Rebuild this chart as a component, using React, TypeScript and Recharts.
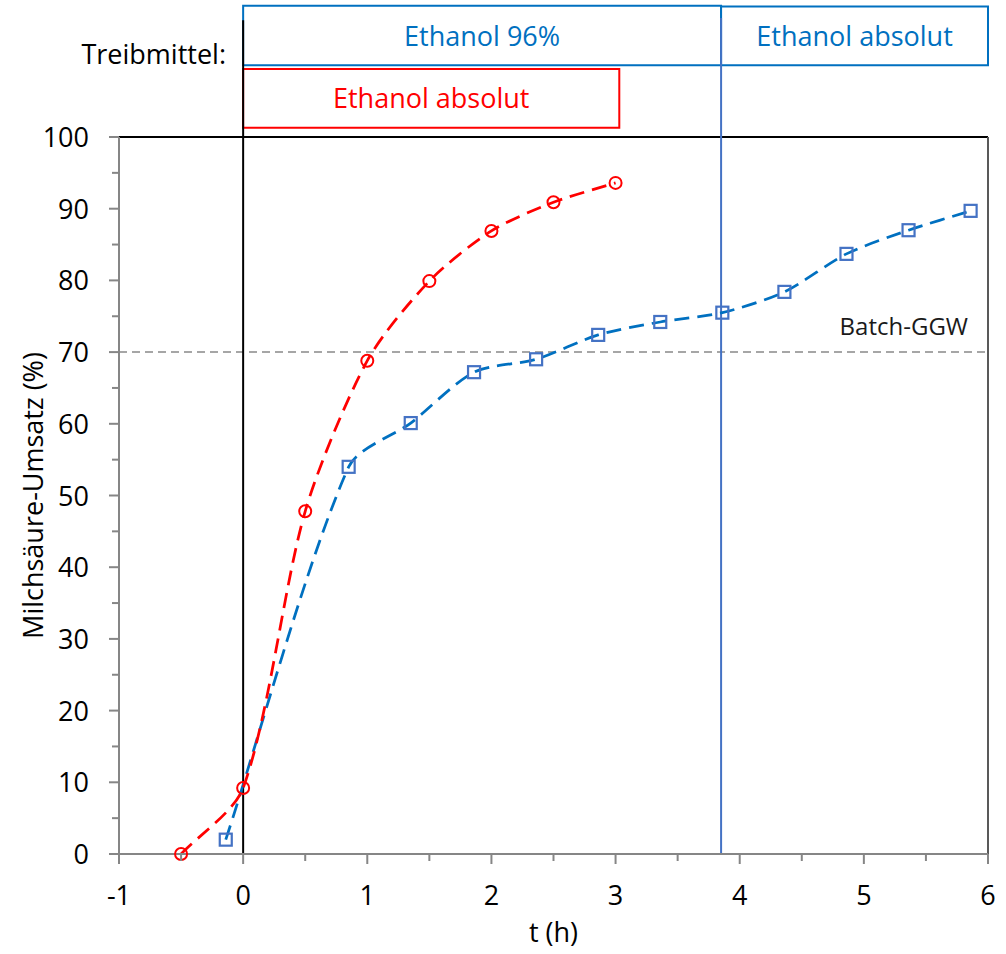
import React from 'react';
import {
  ComposedChart,
  Line,
  XAxis,
  YAxis,
  ReferenceLine,
  ReferenceArea,
} from 'recharts';

// Ethanol absolut (red) and Ethanol 96% -> absolut (blue)
const redT = [-0.5, 0, 0.5, 1, 1.5, 2, 2.5, 3];
const redU = [0, 9.2, 47.8, 68.8, 79.9, 86.9, 90.9, 93.6];
const blueT = [-0.14, 0.85, 1.35, 1.86, 2.36, 2.86, 3.36, 3.86, 4.36, 4.86, 5.36, 5.86];
const blueU = [2.0, 54.0, 60.1, 67.2, 69.0, 72.4, 74.2, 75.5, 78.4, 83.7, 87.0, 89.7];

const xTicks = [-1, -0.5, 0, 0.5, 1, 1.5, 2, 2.5, 3, 3.5, 4, 4.5, 5, 5.5, 6];
const yTicks = [0, 5, 10, 15, 20, 25, 30, 35, 40, 45, 50, 55, 60, 65, 70, 75, 80, 85, 90, 95, 100];

const switchT = 3.85;
const batchGGW = 70;

const redData = redT.map((t, i) => ({ t, u: redU[i] }));
const blueData = blueT.map((t, i) => ({ t, u: blueU[i] }));

const FONT = '"Open Sans", Lato, sans-serif';
const RED = '#FF0000';
const BLUE = '#0070C0';
const AXIS = '#868686';

// smoothed line like excel: tangent direction from neighbours,
// control handle scaled by the length of the segment itself (no overshoot)
const SMOOTH = 0.27;
const smoothCurve = (context: any) => {
  let pts: number[][] = [];
  const tangent = (a: number[], b: number[]) => {
    const dx = b[0] - a[0];
    const dy = b[1] - a[1];
    const l = Math.hypot(dx, dy) || 1;
    return [dx / l, dy / l];
  };
  return {
    areaStart() {},
    areaEnd() {},
    lineStart() {
      pts = [];
    },
    point(x: number, y: number) {
      pts.push([+x, +y]);
    },
    lineEnd() {
      if (!pts.length) return;
      context.moveTo(pts[0][0], pts[0][1]);
      for (let i = 0; i < pts.length - 1; i++) {
        const p0 = pts[i - 1] || pts[i];
        const p1 = pts[i];
        const p2 = pts[i + 1];
        const p3 = pts[i + 2] || p2;
        const len = Math.hypot(p2[0] - p1[0], p2[1] - p1[1]) * SMOOTH;
        const t1 = tangent(p0, p2);
        const t2 = tangent(p1, p3);
        context.bezierCurveTo(
          p1[0] + t1[0] * len,
          p1[1] + t1[1] * len,
          p2[0] - t2[0] * len,
          p2[1] - t2[1] * len,
          p2[0],
          p2[1]
        );
      }
    },
  };
};

const XTick = (props: any) => {
  const { x, y, payload } = props;
  const major = Number.isInteger(payload.value);
  return (
    <g>
      <line x1={x} x2={x} y1={y} y2={y + (major ? 10 : 7)} stroke={AXIS} strokeWidth={2} />
      {major && (
        <text x={x} y={y + 51} textAnchor="middle" fontSize={27} fill="#000" fontFamily={FONT}>
          {String(payload.value)}
        </text>
      )}
    </g>
  );
};

const YTick = (props: any) => {
  const { x, y, payload } = props;
  const major = payload.value % 10 === 0;
  return (
    <g>
      <line x1={x} x2={x - (major ? 10 : 7)} y1={y} y2={y} stroke={AXIS} strokeWidth={2} />
      {major && (
        <text x={x - 30} y={y + 10} textAnchor="end" fontSize={27} fill="#000" fontFamily={FONT}>
          {payload.value}
        </text>
      )}
    </g>
  );
};

const CircleDot = (props: any) => {
  const { cx, cy, index } = props;
  return <circle key={'c' + index} cx={cx} cy={cy} r={6} fill="none" stroke={RED} strokeWidth={2} />;
};

const SquareDot = (props: any) => {
  const { cx, cy, index } = props;
  return (
    <rect key={'s' + index} x={cx - 6} y={cy - 6} width={12} height={12} fill="none" stroke="#4472C4" strokeWidth={2.2} />
  );
};

const boxLabel = (text: string, color: string) => (props: any) => {
  const { viewBox } = props;
  return (
    <text
      x={viewBox.x + viewBox.width / 2}
      y={viewBox.y + viewBox.height / 2 + 10}
      textAnchor="middle"
      fontSize={27}
      fill={color}
      fontFamily={FONT}
    >
      {text}
    </text>
  );
};

export default function App() {
  return (
    <div style={{ position: 'absolute', left: 0, top: 0, width: 1006, height: 954, background: '#fff' }}>
      <div
        style={{
          position: 'absolute',
          left: 0,
          top: 40,
          width: 226,
          textAlign: 'right',
          fontFamily: FONT,
          fontSize: 27,
          lineHeight: '28px',
          color: '#000',
          whiteSpace: 'nowrap',
        }}
      >
        Treibmittel:
      </div>
      <ComposedChart
        width={1006}
        height={954}
        margin={{ top: 137, right: 18, bottom: 40, left: 0 }}
        style={{ position: 'absolute', left: 0, top: 0 }}
      >
        <XAxis
          type="number"
          dataKey="t"
          domain={[-1, 6]}
          ticks={xTicks}
          interval={0}
          height={60}
          tickSize={0}
          tickMargin={0}
          tickLine={false}
          axisLine={{ stroke: AXIS, strokeWidth: 2 }}
          tick={<XTick />}
          allowDuplicatedCategory={false}
          label={{
            value: 't (h)',
            position: 'insideBottom',
            offset: -28,
            fontSize: 27,
            fill: '#000',
            fontFamily: FONT,
          }}
        />
        <YAxis
          type="number"
          domain={[0, 100]}
          ticks={yTicks}
          interval={0}
          width={119}
          tickSize={0}
          tickMargin={0}
          tickLine={false}
          axisLine={{ stroke: AXIS, strokeWidth: 2 }}
          tick={<YTick />}
          label={{
            value: 'Milchsäure-Umsatz (%)',
            angle: -90,
            position: 'insideLeft',
            offset: 33,
            style: { textAnchor: 'middle' },
            fontSize: 27,
            fill: '#000',
            fontFamily: FONT,
          }}
        />
        <ReferenceLine y={100} stroke="#000" strokeWidth={2} />
        <ReferenceLine x={6} stroke="#595959" strokeWidth={2} />
        <ReferenceLine
          y={batchGGW}
          stroke="#A6A6A6"
          strokeWidth={2}
          strokeDasharray="8 5"
          label={(props: any) => {
            const { viewBox } = props;
            return (
              <text
                x={viewBox.x + viewBox.width - 20}
                y={viewBox.y - 17}
                textAnchor="end"
                fontSize={24}
                fill="#1a1a1a"
                fontFamily={FONT}
              >
                Batch-GGW
              </text>
            );
          }}
        />
        <ReferenceLine
          segment={[{ x: 0, y: 0 }, { x: 0, y: 116.3 }]}
          stroke="#000"
          strokeWidth={2}
          ifOverflow="visible"
        />
        <ReferenceLine
          segment={[{ x: switchT, y: 0 }, { x: switchT, y: 116.6 }]}
          stroke="#4472C4"
          strokeWidth={2}
          ifOverflow="visible"
        />
        <ReferenceArea
          x1={0}
          x2={switchT}
          y1={110.0}
          y2={118.3}
          fill="#fff"
          fillOpacity={1}
          stroke={BLUE}
          strokeWidth={2}
          ifOverflow="visible"
          label={boxLabel('Ethanol 96%', BLUE)}
        />
        <ReferenceArea
          x1={switchT}
          x2={6}
          y1={110.0}
          y2={118.2}
          fill="#fff"
          fillOpacity={1}
          stroke={BLUE}
          strokeWidth={2}
          ifOverflow="visible"
          label={boxLabel('Ethanol absolut', BLUE)}
        />
        <ReferenceArea
          x1={0}
          x2={3.03}
          y1={101.3}
          y2={109.5}
          fill="#fff"
          fillOpacity={1}
          stroke={RED}
          strokeWidth={2}
          ifOverflow="visible"
          label={boxLabel('Ethanol absolut', RED)}
        />
        <Line
          data={blueData}
          dataKey="u"
          type={smoothCurve as any}
          stroke={BLUE}
          strokeWidth={2.75}
          strokeDasharray="15 8"
          dot={<SquareDot />}
          activeDot={false}
          isAnimationActive={false}
        />
        <Line
          data={redData}
          dataKey="u"
          type={smoothCurve as any}
          stroke={RED}
          strokeWidth={2.75}
          strokeDasharray="15 8"
          dot={<CircleDot />}
          activeDot={false}
          isAnimationActive={false}
        />
      </ComposedChart>
    </div>
  );
}
